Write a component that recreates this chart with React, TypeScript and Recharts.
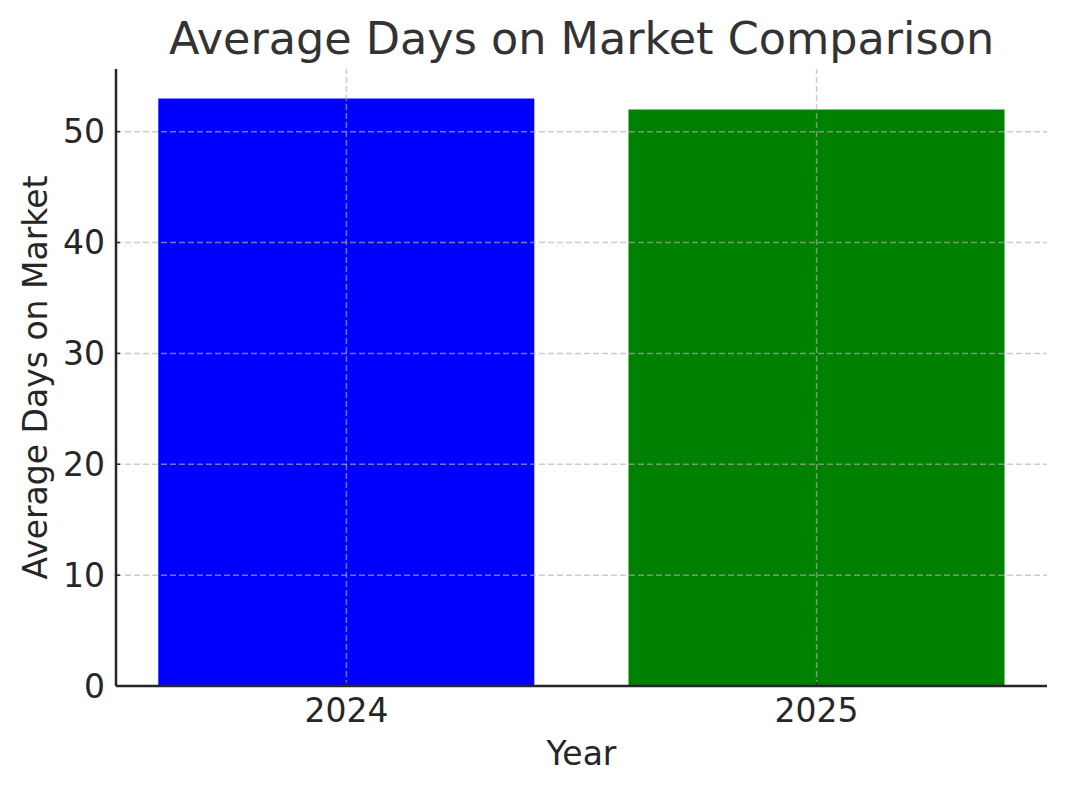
import { BarChart, Bar, XAxis, YAxis, Cell, ReferenceLine } from "recharts";

const years = ["2024", "2025"];
const avgDays = [53, 52];
const barColors = ["#0000ff", "#008000"];
const yTicks = [0, 10, 20, 30, 40, 50];
const xTicks = [0, 1];

const data = years.map((year, i) => ({ idx: i, year, days: avgDays[i] }));

const FONT = "DejaVu Sans, sans-serif";
const INK = "#262626";

function YLabel({ viewBox }: any) {
  const cx = viewBox.x + 35;
  const cy = viewBox.y + viewBox.height / 2;
  return (
    <text
      x={cx}
      y={cy}
      transform={`rotate(-90 ${cx} ${cy})`}
      textAnchor="middle"
      dominantBaseline="central"
      fontSize={33}
      fontFamily={FONT}
      fill={INK}
    >
      Average Days on Market
    </text>
  );
}

function XLabel({ viewBox }: any) {
  return (
    <text
      x={viewBox.x + viewBox.width / 2}
      y={765}
      textAnchor="middle"
      fontSize={33}
      fontFamily={FONT}
      fill={INK}
    >
      Year
    </text>
  );
}

export default function App() {
  return (
    <div
      style={{
        position: "absolute",
        left: 0,
        top: 0,
        width: 1066,
        height: 793,
        background: "#fff",
        fontFamily: FONT,
      }}
    >
      <div
        style={{
          position: "absolute",
          left: 116,
          width: 931,
          top: 17,
          textAlign: "center",
          fontSize: 44.5,
          lineHeight: "44px",
          color: "#333333",
          whiteSpace: "nowrap",
        }}
      >
        Average Days on Market Comparison
      </div>
      <BarChart
        width={1066}
        height={793}
        data={data}
        margin={{ top: 69, right: 19, bottom: 0, left: 0 }}
      >
        <XAxis
          dataKey="idx"
          type="number"
          domain={[-0.49, 1.49]}
          ticks={xTicks}
          tickFormatter={(v: number) => years[v]}
          height={107}
          axisLine={{ stroke: INK, strokeWidth: 2.5 }}
          tickLine={{ stroke: INK, strokeWidth: 1.5 }}
          tickSize={-4}
          tickMargin={17}
          tick={{ fontSize: 33, fill: INK, fontFamily: FONT }}
          allowDataOverflow
          label={<XLabel />}
        />
        <YAxis
          type="number"
          domain={[0, 55.65]}
          ticks={yTicks}
          width={116}
          axisLine={{ stroke: INK, strokeWidth: 2.5 }}
          tickLine={{ stroke: INK, strokeWidth: 1.5 }}
          tickSize={-4}
          tickMargin={15}
          tick={{ fontSize: 33, fill: INK, fontFamily: FONT }}
          allowDataOverflow
          label={<YLabel />}
        />
        <Bar dataKey="days" barSize={376} isAnimationActive={false}>
          {data.map((d, i) => (
            <Cell key={d.year} fill={barColors[i]} />
          ))}
        </Bar>
        {yTicks.slice(1).map((t) => (
          <ReferenceLine
            key={"y" + t}
            y={t}
            stroke="#b0b0b0"
            strokeOpacity={0.65}
            strokeWidth={1.5}
            strokeDasharray="6 3"
          />
        ))}
        {xTicks.map((t) => (
          <ReferenceLine
            key={"x" + t}
            x={t}
            stroke="#b0b0b0"
            strokeOpacity={0.65}
            strokeWidth={1.5}
            strokeDasharray="6 3"
          />
        ))}
      </BarChart>
    </div>
  );
}
